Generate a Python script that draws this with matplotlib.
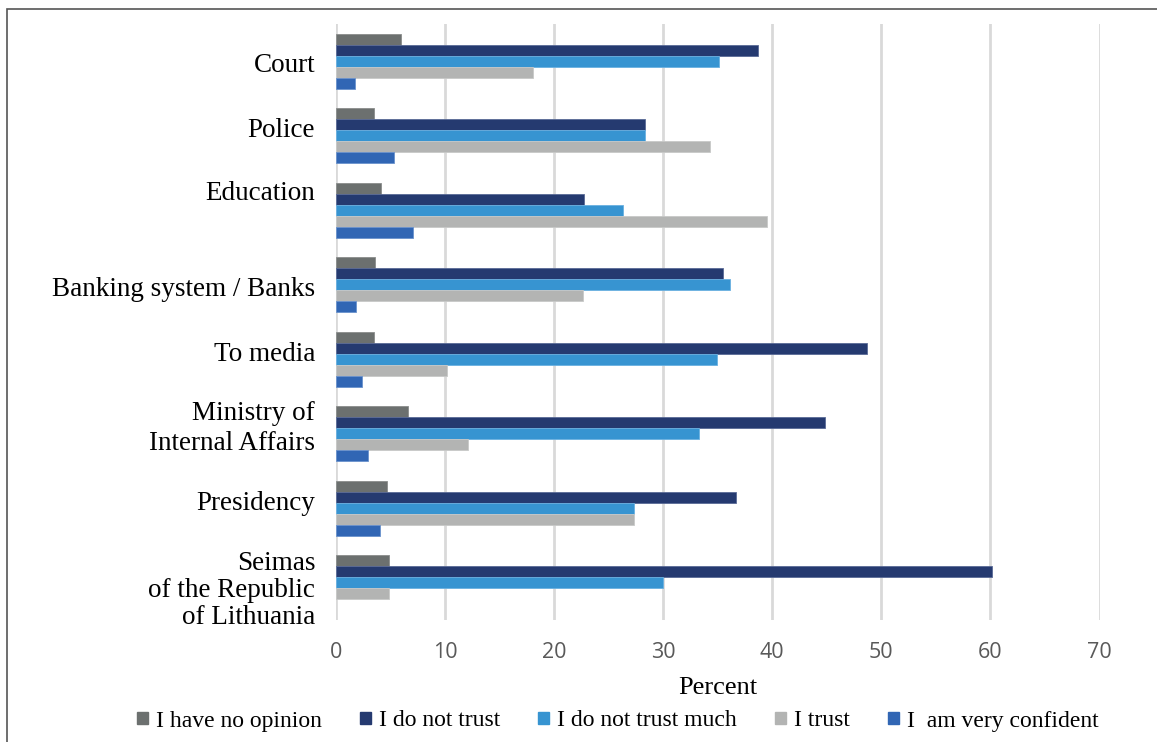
import numpy as np
import matplotlib
matplotlib.use("Agg")
import matplotlib.pyplot as plt
from matplotlib.patches import Rectangle, Patch
from matplotlib.transforms import ScaledTranslation

categories = ["Court", "Police", "Education", "Banking system / Banks", "To media",
              "Ministry of\nInternal Affairs", "Presidency",
              "Seimas\nof the Republic\nof Lithuania"]
series_names = ["I have no opinion", "I do not trust", "I do not trust much",
                "I trust", "I  am very confident"]
no_opinion      = [6.0, 3.5, 4.1, 3.6, 3.5, 6.6, 4.7, 4.9]
do_not_trust    = [38.7, 28.3, 22.7, 35.5, 48.7, 44.8, 36.7, 60.1]
not_trust_much  = [35.1, 28.3, 26.3, 36.1, 34.9, 33.3, 27.3, 30.0]
trust           = [18.1, 34.3, 39.5, 22.6, 10.2, 12.1, 27.3, 4.9]
very_confident  = [1.7, 5.3, 7.1, 1.8, 2.4, 2.9, 4.0, 0.0]
x_ticks = [0, 10, 20, 30, 40, 50, 60, 70]
x_label = "Percent"

series = [no_opinion, do_not_trust, not_trust_much, trust, very_confident]
colors = ["#6c706f", "#253a70", "#3794d1", "#b3b4b3", "#3166b4"]
edge_colors = ["#8a8d8c", "#5a6a96", "#6ab0e0", "#c8c9c8", "#6a92cc"]
label_offsets_px = [1.5, -8, -20, 2, -8, -11, -8, 4]  # + = down
label_spacing = [1.15] * 5 + [1.25, 1.15, 1.08]

W, H = 1157, 742
fig = plt.figure(figsize=(W / 100, H / 100), dpi=100)
ax = fig.add_axes([336 / W, 1 - 620 / H, (1099.5 - 336) / W, (620 - 24) / H])

n = len(categories)
y = np.arange(n)
h = 0.147
for j, (vals, c, ec) in enumerate(zip(series, colors, edge_colors)):
    ax.barh(y + (j - 2) * h, vals, height=h, color=c, edgecolor=ec,
            linewidth=[0.6 if v > 0 else 0 for v in vals], label=series_names[j], zorder=3)

ax.set_xlim(0, 70)
ax.set_ylim(n - 0.5, -0.5)
ax.set_xticks(x_ticks)
ax.set_xticklabels([str(t) for t in x_ticks], fontfamily="Open Sans", fontsize=15.5,
                   color="#595959")
ax.tick_params(axis="x", length=0, pad=16)
ax.set_yticks(y)
ax.set_yticklabels(categories, fontfamily="Liberation Serif", fontsize=19.5,
                   color="black")
ax.tick_params(axis="y", length=0, pad=15)
for lab, off, ls in zip(ax.get_yticklabels(), label_offsets_px, label_spacing):
    lab.set_linespacing(ls)
    lab.set_transform(lab.get_transform() + ScaledTranslation(0, -off / 100, fig.dpi_scale_trans))

ax.grid(axis="x", color="#d9d9d9", linewidth=2, zorder=0)
for s in ax.spines.values():
    s.set_visible(False)

ax.set_xlabel(x_label, fontfamily="Liberation Serif", fontsize=19, labelpad=10)

handles = [Patch(facecolor=c, edgecolor=c) for c in colors]
fig.legend(handles, series_names, loc="center", bbox_to_anchor=(618 / W, 1 - 721 / H),
           ncol=5, frameon=False, prop={"family": "Liberation Serif", "size": 17},
           handlelength=0.45, handleheight=0.45, handletextpad=0.35, columnspacing=1.62,
           borderaxespad=0, borderpad=0)

fig.patches.append(Rectangle((7 / W, -0.1), 1.2, (H - 9) / H + 0.1, transform=fig.transFigure,
                             fill=False, edgecolor="#555555", linewidth=1.2))

fig.savefig("out.png", dpi=100)
